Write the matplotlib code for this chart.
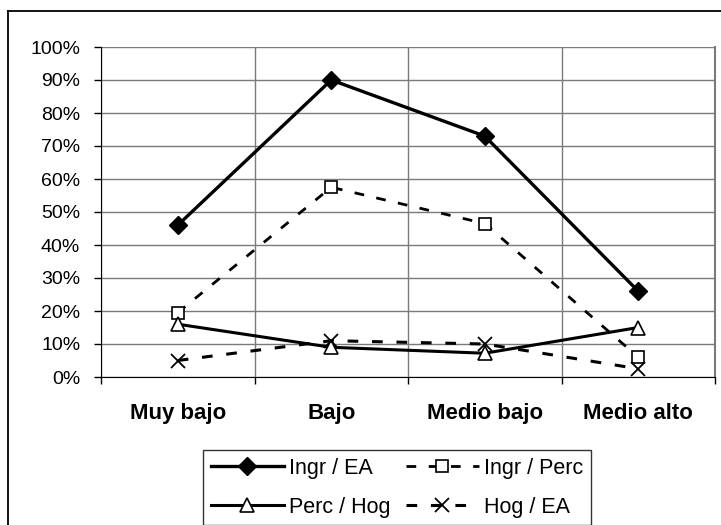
import matplotlib
matplotlib.use("Agg")
import matplotlib.pyplot as plt
from matplotlib.lines import Line2D
from matplotlib.ticker import FixedLocator, PercentFormatter

plt.rcParams["font.family"] = ["Liberation Sans", "DejaVu Sans"]

# ---------------------------------------------------------------------------
# Data
# ---------------------------------------------------------------------------
categories = ["Muy bajo", "Bajo", "Medio bajo", "Medio alto"]
ingr_ea = [0.46, 0.90, 0.73, 0.26]
ingr_perc = [0.195, 0.575, 0.465, 0.06]
perc_hog = [0.16, 0.09, 0.072, 0.15]
hog_ea = [0.05, 0.11, 0.10, 0.025]

GRID = "#7a7a7a"
W, H = 721, 525

fig = plt.figure(figsize=(W / 100, H / 100), dpi=100)
ax = fig.add_axes([101 / W, 1 - 377 / H, (715 - 101) / W, (377 - 47) / H])

x = [i + 0.5 for i in range(len(categories))]

ax.plot(x, ingr_ea, color="black", lw=2.4, marker="D", ms=9,
        mfc="black", mec="black", label="Ingr / EA", zorder=5)
ax.plot(x, ingr_perc, color="black", lw=2.0, dashes=(3.5, 4.5),
        marker="s", ms=9, mfc="white", mec="black", mew=1.2,
        label="Ingr / Perc", zorder=4)
ax.plot(x, perc_hog, color="black", lw=2.2, marker="^", ms=10,
        mfc="white", mec="black", mew=1.2, label="Perc / Hog", zorder=4)
ax.plot(x, hog_ea, color="black", lw=2.2, dashes=(3.5, 4.5),
        marker="x", ms=10, mec="black", mew=1.3,
        label="Hog / EA", zorder=4)

ax.set_xlim(0, len(categories))
ax.set_ylim(0, 1.0)

# major x ticks = category boundaries (gridlines), minor = labels
ax.xaxis.set_major_locator(FixedLocator(range(len(categories) + 1)))
ax.xaxis.set_minor_locator(FixedLocator(x))
ax.set_xticklabels([], minor=False)
ax.set_xticklabels(categories, minor=True, fontsize=16, fontweight="bold")
ax.tick_params(axis="x", which="minor", length=0, pad=19)
ax.tick_params(axis="x", which="major", direction="out", length=5, width=1)

ax.set_yticks([i / 10 for i in range(11)])
ax.yaxis.set_major_formatter(PercentFormatter(1.0, decimals=0))
ax.tick_params(axis="y", direction="out", length=5, width=1,
               labelsize=14, pad=10)

ax.grid(True, which="major", color=GRID, lw=1.0)
ax.set_axisbelow(True)
ax.spines["top"].set_visible(False)
ax.spines["right"].set_color(GRID)
ax.spines["right"].set_linewidth(1.5)
ax.spines["left"].set_color("black")
ax.spines["bottom"].set_color("black")

# outer chart border (cropped at right and bottom)
fig.add_artist(Line2D([8 / W, 8 / W], [1 - 11 / H, 0], color="black",
                      lw=1.3, transform=fig.transFigure))
fig.add_artist(Line2D([8 / W, 1], [1 - 11 / H, 1 - 11 / H], color="black",
                      lw=1.3, transform=fig.transFigure))

handles, labels = ax.get_legend_handles_labels()
order = [0, 2, 1, 3]
leg = fig.legend([handles[i] for i in order], [labels[i] for i in order],
                 ncol=2, loc="upper left",
                 bbox_to_anchor=(203 / W, 1 - 450 / H),
                 fontsize=15.5, frameon=True, fancybox=False,
                 edgecolor="black", handlelength=3.4, handletextpad=0.25,
                 columnspacing=0.7, labelspacing=0.85, borderpad=0.35,
                 borderaxespad=0, numpoints=1)
leg.get_frame().set_linewidth(1.0)

fig.savefig("out.png", dpi=100)
